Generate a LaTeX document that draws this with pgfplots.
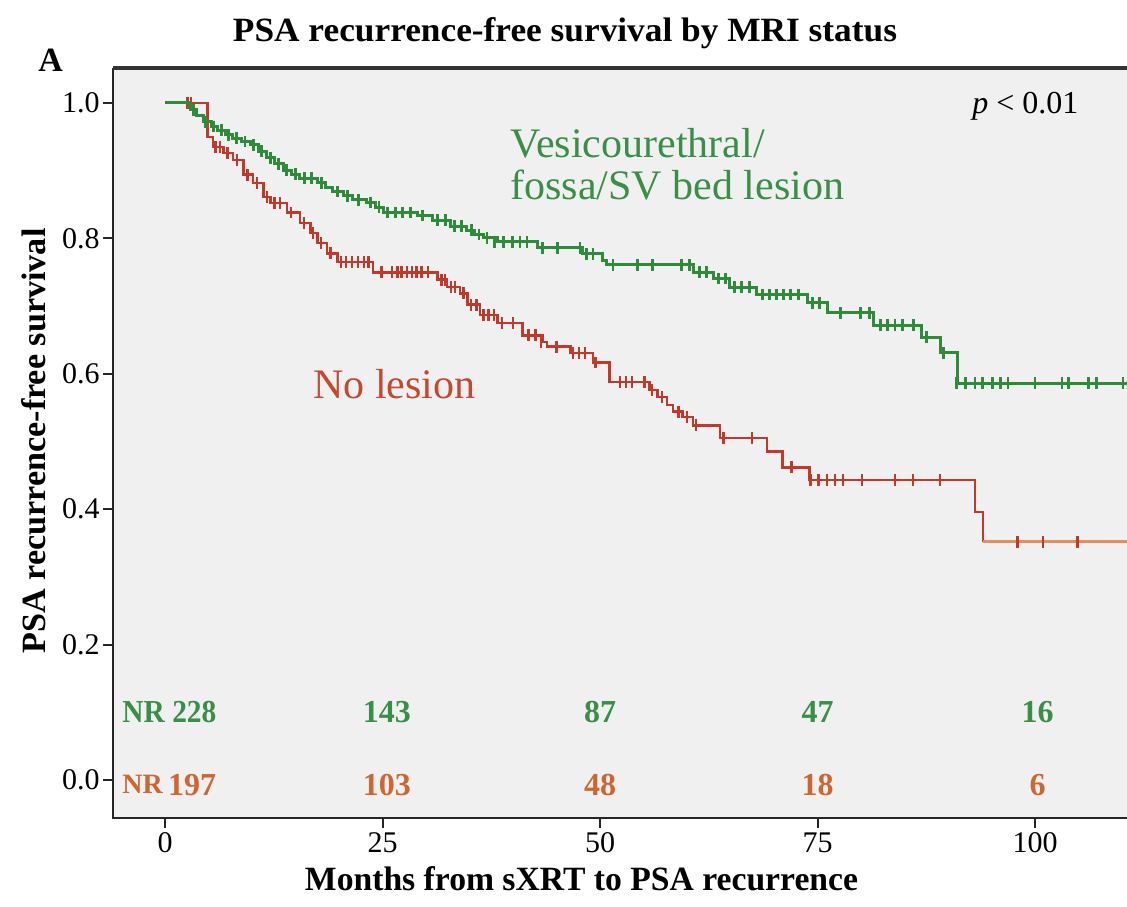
\documentclass[border=0pt]{standalone}
\usepackage{fontspec}
\setmainfont{Liberation Serif}
\usepackage{graphicx}
\usepackage{pgfplots}
\pgfplotsset{compat=1.18}

\definecolor{bgc}{RGB}{240,240,240}
\definecolor{grn}{RGB}{46,139,58}
\definecolor{grntxt}{RGB}{58,142,72}
\definecolor{redl}{RGB}{192,57,43}
\definecolor{orgl}{RGB}{226,143,95}
\definecolor{orgtxt}{RGB}{204,102,51}
\definecolor{redtxt}{RGB}{192,74,52}

\pgfplotstableread{
m S
0 1.000
2.9 0.990
3.6 0.981
4.4 0.972
5.3 0.965
6.0 0.960
7.0 0.953
7.8 0.948
8.8 0.943
9.8 0.938
10.7 0.929
11.7 0.919
12.6 0.910
13.6 0.901
14.5 0.895
15.5 0.889
17.5 0.882
18.4 0.875
19.3 0.869
20.5 0.863
21.6 0.857
23.2 0.853
24.2 0.846
25.1 0.838
29.0 0.834
30.8 0.827
32.8 0.818
34.7 0.812
35.6 0.806
36.6 0.801
38.2 0.795
42.8 0.786
48.0 0.777
50.3 0.768
50.8 0.761
60.7 0.750
63.0 0.741
64.9 0.728
68.0 0.717
73.8 0.705
76.1 0.690
81.4 0.672
87.0 0.654
89.1 0.631
91.1 0.586
110.6 0.586
}\greensteps

\pgfplotstableread{
m S
3.3 0.990
4.7 0.972
5.6 0.965
6.5 0.960
7.3 0.953
8.2 0.948
9.2 0.943
10.2 0.938
11.1 0.929
12.1 0.919
13.0 0.910
14.0 0.901
15.0 0.895
16.0 0.889
16.8 0.889
18.0 0.882
19.8 0.869
21.0 0.863
22.2 0.857
23.6 0.853
24.6 0.846
25.6 0.838
26.5 0.838
27.3 0.838
28.2 0.838
29.6 0.834
31.3 0.827
32.2 0.827
33.3 0.818
34.1 0.818
35.2 0.812
36.1 0.806
37.0 0.801
37.9 0.795
38.9 0.795
39.9 0.795
40.8 0.795
41.6 0.795
43.4 0.786
45.1 0.786
47.7 0.786
48.4 0.777
49.2 0.777
51.5 0.761
54.3 0.761
56.0 0.761
59.4 0.761
60.3 0.761
61.4 0.750
62.2 0.750
63.6 0.741
64.4 0.741
65.5 0.728
66.3 0.728
67.2 0.728
68.7 0.717
69.5 0.717
70.3 0.717
71.1 0.717
71.9 0.717
72.8 0.717
74.4 0.705
75.2 0.705
77.6 0.690
79.9 0.690
81.0 0.690
82.2 0.672
83.0 0.672
83.9 0.672
84.8 0.672
86.0 0.672
87.5 0.654
89.5 0.631
91.0 0.586
92.0 0.586
93.1 0.586
94.0 0.586
95.1 0.586
96.0 0.586
96.9 0.586
100.0 0.586
103.1 0.586
103.8 0.586
106.1 0.586
107.1 0.586
110.1 0.586
}\greencens

\pgfplotstableread{
m S
0 1.000
4.9 0.950
5.5 0.935
6.7 0.926
7.8 0.916
9.0 0.894
10.1 0.882
11.3 0.861
12.1 0.852
14.0 0.838
15.5 0.823
16.7 0.808
17.5 0.793
18.6 0.778
19.8 0.765
23.9 0.750
31.3 0.739
32.4 0.728
33.9 0.719
34.8 0.702
36.2 0.687
38.2 0.675
41.1 0.657
43.4 0.647
43.9 0.640
46.6 0.631
49.2 0.617
51.1 0.588
55.7 0.576
56.6 0.566
57.7 0.554
58.4 0.544
59.5 0.536
60.7 0.524
63.8 0.505
69.2 0.485
71.0 0.462
74.1 0.443
93.1 0.396
94.0 0.352
}\redsteps

\pgfplotstableread{
m S
2.6 1.000
3.0 1.000
5.8 0.935
6.3 0.935
7.2 0.926
8.3 0.916
9.5 0.894
10.6 0.882
11.7 0.861
12.6 0.852
13.2 0.852
14.5 0.838
16.0 0.823
17.0 0.808
17.9 0.793
19.0 0.778
20.2 0.765
20.8 0.765
21.5 0.765
22.2 0.765
22.9 0.765
23.4 0.765
24.9 0.750
26.1 0.750
26.7 0.750
27.2 0.750
27.8 0.750
28.4 0.750
28.9 0.750
29.5 0.750
30.2 0.750
31.8 0.739
32.2 0.739
32.9 0.728
33.3 0.728
34.3 0.719
35.2 0.702
35.8 0.702
36.6 0.687
37.2 0.687
37.8 0.687
38.7 0.675
40.0 0.675
41.8 0.657
42.6 0.657
43.2 0.647
45.0 0.640
46.9 0.631
47.6 0.631
48.3 0.631
49.5 0.617
52.3 0.588
53.0 0.588
53.7 0.588
55.1 0.588
56.0 0.576
57.1 0.566
59.0 0.544
60.0 0.536
61.0 0.524
64.2 0.505
67.5 0.505
72.0 0.462
74.2 0.443
75.1 0.443
76.1 0.443
77.0 0.443
77.9 0.443
80.1 0.443
83.9 0.443
86.0 0.443
89.1 0.443
}\redcens

\begin{document}
\begin{tikzpicture}
\begin{axis}[
  at={(0,0)}, anchor=south west,
  scale only axis, width=507pt, height=375pt,
  xmin=-5.977, xmax=110.57, ymin=-0.0561, ymax=1.0517,
  axis line style={draw=none},
  axis background/.style={fill=bgc},
  xtick={0,25,50,75,100},
  ytick={0,0.2,0.4,0.6,0.8,1.0},
  tick pos=left, tick align=outside,
  major tick length=5pt,
  every tick/.style={black!85, line width=1pt},
  /pgf/number format/assume math mode=true,
  tick label style={font=\fontsize{15}{18}\selectfont},
  yticklabel style={/pgf/number format/fixed, /pgf/number format/fixed zerofill, /pgf/number format/precision=1, inner sep=1.5pt},
  xticklabel style={inner sep=2pt},
  clip mode=individual,
]
\addplot[const plot, redl, line width=1.3pt] table[x=m,y=S] {\redsteps};
\addplot[orgl, line width=1.4pt] coordinates {(94.0,0.352) (110.6,0.352)};
\addplot[only marks, mark=|, mark size=2.9pt, redl, mark options={line width=1.2pt}] table[x=m,y=S] {\redcens};
\addplot[only marks, mark=|, mark size=2.9pt, redl, mark options={line width=1.2pt}] coordinates {(98.0,0.352) (100.9,0.352) (104.9,0.352)};
\addplot[const plot, grn, line width=1.5pt] table[x=m,y=S] {\greensteps};
\addplot[only marks, mark=|, mark size=2.9pt, grn, mark options={line width=1.4pt}] table[x=m,y=S] {\greencens};

\node[anchor=base west, inner sep=0pt, text=grntxt, font=\fontsize{21}{25}\selectfont] at (axis cs:39.66,0.920) {Vesicourethral/};
\node[anchor=base west, inner sep=0pt, text=grntxt, font=\fontsize{21}{25}\selectfont] at (axis cs:39.66,0.857) {fossa/SV bed lesion};
\node[anchor=base west, inner sep=0pt, text=redtxt, font=\fontsize{21}{25}\selectfont] at (axis cs:17.0,0.564) {No lesion};
\node[anchor=base west, inner sep=0pt, font=\fontsize{16}{19}\selectfont] at (axis cs:92.76,0.985) {\textit{p} < 0.01};

\node[anchor=base west, inner sep=0pt, text=grntxt, font=\bfseries\fontsize{16}{19}\selectfont] at (axis cs:-4.94,0.0857) {\scalebox{0.92}[1]{NR 228}};
\node[anchor=base, inner sep=0pt, text=grntxt, font=\bfseries\fontsize{16}{19}\selectfont] at (axis cs:25.5,0.0857) {143};
\node[anchor=base, inner sep=0pt, text=grntxt, font=\bfseries\fontsize{16}{19}\selectfont] at (axis cs:50,0.0857) {87};
\node[anchor=base, inner sep=0pt, text=grntxt, font=\bfseries\fontsize{16}{19}\selectfont] at (axis cs:75,0.0857) {47};
\node[anchor=base, inner sep=0pt, text=grntxt, font=\bfseries\fontsize{16}{19}\selectfont] at (axis cs:100.3,0.0857) {16};

\node[anchor=base west, inner sep=0pt, text=orgtxt, font=\bfseries\fontsize{16}{19}\selectfont] at (axis cs:-4.94,-0.0222) {{\fontsize{14}{16}\selectfont\raisebox{1pt}{NR}}\,197};
\node[anchor=base, inner sep=0pt, text=orgtxt, font=\bfseries\fontsize{16}{19}\selectfont] at (axis cs:25.5,-0.0222) {103};
\node[anchor=base, inner sep=0pt, text=orgtxt, font=\bfseries\fontsize{16}{19}\selectfont] at (axis cs:50,-0.0222) {48};
\node[anchor=base, inner sep=0pt, text=orgtxt, font=\bfseries\fontsize{16}{19}\selectfont] at (axis cs:75,-0.0222) {18};
\node[anchor=base, inner sep=0pt, text=orgtxt, font=\bfseries\fontsize{16}{19}\selectfont] at (axis cs:100.3,-0.0222) {6};
\end{axis}

% frame: left, bottom, top (no right side)
\draw[black!85, line width=1.3pt] (0,375pt) -- (0,0) -- (507pt,0);
\draw[black!80, line width=1.7pt] (0,375pt) -- (507pt,375pt);

\node[anchor=base, inner sep=0pt, font=\bfseries\fontsize{17}{20}\selectfont] at (226pt,388pt) {\resizebox{332pt}{\height}{PSA recurrence-free survival by MRI status}};
\node[anchor=base west, inner sep=0pt, font=\bfseries\fontsize{17}{20}\selectfont] at (-37.5pt,373pt) {A};
\node[anchor=base, inner sep=0pt, font=\bfseries\fontsize{17}{20}\selectfont] at (234.25pt,-36pt) {\resizebox{276.5pt}{\height}{Months from sXRT to PSA recurrence}};
\node[anchor=base, rotate=90, inner sep=0pt, font=\bfseries\fontsize{17}{20}\selectfont] at (-34pt,188.5pt) {\resizebox{212.5pt}{\height}{PSA recurrence-free survival}};

\pgfresetboundingbox
\path[use as bounding box] (-56.5pt,-44pt) rectangle (507pt,409pt);
\end{tikzpicture}
\end{document}
